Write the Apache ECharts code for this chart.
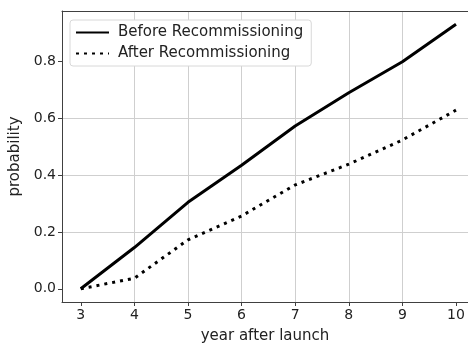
<!DOCTYPE html>
<html>
<head>
<meta charset="utf-8">
<script src="https://cdn.jsdelivr.net/npm/echarts@6/dist/echarts.min.js"></script>
<style>
  html, body { margin: 0; padding: 0; background: #fff; overflow: hidden; }
  #chart { width: 468px; height: 343px; }
</style>
</head>
<body>
<div id="chart"></div>
<script>
// Years after launch and failure probability for both operating modes
const years = [3, 4, 5, 6, 7, 8, 9, 10];
const beforeRecommissioning = [0.0, 0.145, 0.304, 0.434, 0.572, 0.689, 0.798, 0.930];
const afterRecommissioning = [0.0, 0.037, 0.172, 0.256, 0.365, 0.438, 0.523, 0.628];
const yTicks = [0.0, 0.2, 0.4, 0.6, 0.8];
const xTicks = years;

const pairs = (xs, ys) => xs.map((x, i) => [x, ys[i]]);

const FONT = 'DejaVu Sans';
const SPINE = '#404040';
const GRID = '#cfcfcf';
const X_MIN = 2.65, X_MAX = 10.224;

const chart = echarts.init(document.getElementById('chart'), null, { renderer: 'canvas' });
chart.setOption({
  animation: false,
  backgroundColor: '#fff',
  grid: { left: 62, right: 0, top: 11, bottom: 41, outerBoundsMode: 'none' },
  legend: {
    orient: 'vertical',
    left: 70, top: 20,
    padding: [5, 8, 5, 5],
    itemGap: 6,
    itemWidth: 33, itemHeight: 14,
    backgroundColor: '#fff',
    borderColor: '#d8d8d8', borderWidth: 1, borderRadius: 3,
    itemStyle: { opacity: 0 },
    textStyle: { fontFamily: FONT, fontSize: 15, color: '#222', padding: [0, 0, 0, 4] },
    data: ['Before Recommissioning', 'After Recommissioning']
  },
  xAxis: [
    {
      type: 'value',
      min: X_MIN, max: X_MAX,
      name: 'year after launch',
      nameLocation: 'middle',
      nameGap: 27,
      nameTextStyle: { fontFamily: FONT, fontSize: 15, color: '#222' },
      axisLine: { show: true, onZero: false, lineStyle: { color: SPINE, width: 1 } },
      axisTick: { show: true, length: 4, customValues: xTicks, lineStyle: { color: SPINE } },
      axisLabel: { customValues: xTicks, margin: 6, fontFamily: FONT, fontSize: 14, color: '#222' },
      splitLine: {
        show: true, showMinLine: false, showMaxLine: false,
        lineStyle: { color: GRID, width: 1 }
      }
    },
    {
      // top frame edge
      type: 'value',
      position: 'top',
      min: X_MIN, max: X_MAX,
      axisLine: { show: true, onZero: false, lineStyle: { color: SPINE, width: 1 } },
      axisTick: { show: false },
      axisLabel: { show: false },
      splitLine: { show: false }
    }
  ],
  yAxis: {
    type: 'value',
    min: -0.0465, max: 0.9765,
    name: 'probability',
    nameLocation: 'middle',
    nameGap: 39,
    nameTextStyle: { fontFamily: FONT, fontSize: 15, color: '#222' },
    axisLine: { show: true, onZero: false, lineStyle: { color: SPINE, width: 1 } },
    axisTick: { show: true, length: 4, customValues: yTicks, lineStyle: { color: SPINE } },
    axisLabel: {
      customValues: yTicks, margin: 6, fontFamily: FONT, fontSize: 14, color: '#222',
      formatter: v => v.toFixed(1)
    },
    splitLine: {
      show: true, showMinLine: false, showMaxLine: false,
      lineStyle: { color: GRID, width: 1 }
    }
  },
  series: [
    {
      name: 'Before Recommissioning',
      type: 'line',
      data: pairs(years, beforeRecommissioning),
      symbol: 'none',
      lineStyle: { color: '#000', width: 3, type: 'solid' },
      itemStyle: { color: '#000' },
      z: 3
    },
    {
      name: 'After Recommissioning',
      type: 'line',
      data: pairs(years, afterRecommissioning),
      symbol: 'none',
      lineStyle: { color: '#000', width: 3, type: [3, 5], cap: 'butt' },
      itemStyle: { color: '#000' },
      z: 3
    }
  ]
});
</script>
</body>
</html>
